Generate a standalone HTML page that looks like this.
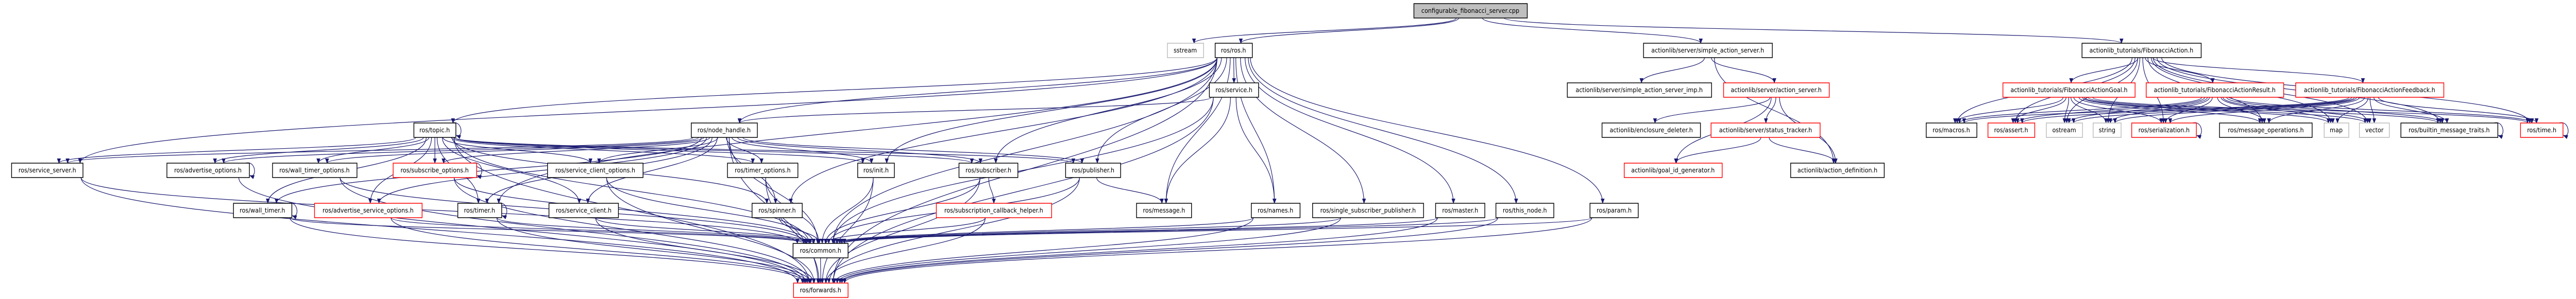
<!DOCTYPE html>
<html><head><meta charset="utf-8"><style>
html,body{margin:0;padding:0;background:#fff;width:100%;height:100%;overflow:hidden;}
svg{display:block;position:absolute;left:0;top:0;width:100%;height:100%;}
text{font-family:"DejaVu Sans","Liberation Sans",sans-serif;font-size:12px;fill:#000;text-anchor:middle;}
.b{fill:#fff;stroke:#000;stroke-width:1.5}
.r{fill:#fff;stroke:#f00;stroke-width:1.5}
.g{fill:#fff;stroke:#bbb;stroke-width:1.5}
.t{fill:#bfbfbf;stroke:#000;stroke-width:1.5}
</style></head><body>
<svg viewBox="0 0 5340 581" preserveAspectRatio="none" xmlns="http://www.w3.org/2000/svg">
<defs><marker id="a" markerWidth="10" markerHeight="8" refX="9" refY="4" orient="auto" markerUnits="userSpaceOnUse"><path d="M0,0 L10,4 L0,8 z" fill="#191970"/></marker></defs>
<rect width="5340" height="581" fill="#fff"/>
<g id="e" fill="none" stroke="#191970" stroke-width="1.2"></g>
<g id="nodes">
<rect class="t" x="2931" y="7" width="235" height="28"/><text x="3048" y="25">configurable_fibonacci_server.cpp</text>
<rect class="g" x="2420" y="84" width="75" height="28"/><text x="2457" y="102">sstream</text>
<rect class="b" x="2519" y="84" width="77" height="28"/><text x="2557" y="102">ros/ros.h</text>
<rect class="b" x="3407" y="84" width="267" height="28"/><text x="3540" y="102">actionlib/server/simple_action_server.h</text>
<rect class="b" x="4316" y="84" width="247" height="28"/><text x="4439" y="102">actionlib_tutorials/FibonacciAction.h</text>
<rect class="b" x="2507" y="161" width="102" height="28"/><text x="2558" y="179">ros/service.h</text>
<rect class="b" x="3249" y="161" width="299" height="28"/><text x="3398" y="179">actionlib/server/simple_action_server_imp.h</text>
<rect class="r" x="3573" y="161" width="219" height="28"/><text x="3682" y="179">actionlib/server/action_server.h</text>
<rect class="r" x="4152" y="161" width="274" height="28"/><text x="4289" y="179">actionlib_tutorials/FibonacciActionGoal.h</text>
<rect class="r" x="4449" y="161" width="285" height="28"/><text x="4591" y="179">actionlib_tutorials/FibonacciActionResult.h</text>
<rect class="r" x="4759" y="161" width="307" height="28"/><text x="4912" y="179">actionlib_tutorials/FibonacciActionFeedback.h</text>
<rect class="b" x="858" y="239" width="87" height="28"/><text x="901" y="257">ros/topic.h</text>
<rect class="b" x="1433" y="239" width="137" height="28"/><text x="1501" y="257">ros/node_handle.h</text>
<rect class="b" x="3321" y="239" width="204" height="28"/><text x="3423" y="257">actionlib/enclosure_deleter.h</text>
<rect class="r" x="3547" y="239" width="226" height="28"/><text x="3660" y="257">actionlib/server/status_tracker.h</text>
<rect class="b" x="3993" y="239" width="105" height="28"/><text x="4045" y="257">ros/macros.h</text>
<rect class="r" x="4121" y="239" width="97" height="28"/><text x="4169" y="257">ros/assert.h</text>
<rect class="g" x="4242" y="239" width="75" height="28"/><text x="4279" y="257">ostream</text>
<rect class="g" x="4339" y="239" width="58" height="28"/><text x="4368" y="257">string</text>
<rect class="r" x="4419" y="239" width="134" height="28"/><text x="4486" y="257">ros/serialization.h</text>
<rect class="b" x="4601" y="239" width="192" height="28"/><text x="4697" y="257">ros/message_operations.h</text>
<rect class="g" x="4818" y="239" width="51" height="28"/><text x="4843" y="257">map</text>
<rect class="g" x="4891" y="239" width="62" height="28"/><text x="4922" y="257">vector</text>
<rect class="b" x="4977" y="239" width="201" height="28"/><text x="5077" y="257">ros/builtin_message_traits.h</text>
<rect class="r" x="5225" y="239" width="88" height="28"/><text x="5269" y="257">ros/time.h</text>
<rect class="b" x="24" y="317" width="148" height="28"/><text x="98" y="335">ros/service_server.h</text>
<rect class="b" x="346" y="317" width="171" height="28"/><text x="431" y="335">ros/advertise_options.h</text>
<rect class="b" x="565" y="317" width="175" height="28"/><text x="652" y="335">ros/wall_timer_options.h</text>
<rect class="r" x="815" y="317" width="173" height="28"/><text x="901" y="335">ros/subscribe_options.h</text>
<rect class="b" x="1135" y="317" width="198" height="28"/><text x="1234" y="335">ros/service_client_options.h</text>
<rect class="b" x="1508" y="317" width="146" height="28"/><text x="1581" y="335">ros/timer_options.h</text>
<rect class="b" x="1778" y="317" width="76" height="28"/><text x="1816" y="335">ros/init.h</text>
<rect class="b" x="1988" y="317" width="122" height="28"/><text x="2049" y="335">ros/subscriber.h</text>
<rect class="b" x="2209" y="317" width="114" height="28"/><text x="2266" y="335">ros/publisher.h</text>
<rect class="r" x="3367" y="317" width="203" height="28"/><text x="3468" y="335">actionlib/goal_id_generator.h</text>
<rect class="b" x="3712" y="317" width="194" height="28"/><text x="3809" y="335">actionlib/action_definition.h</text>
<rect class="b" x="484" y="395" width="121" height="28"/><text x="544" y="413">ros/wall_timer.h</text>
<rect class="r" x="652" y="395" width="223" height="28"/><text x="763" y="413">ros/advertise_service_options.h</text>
<rect class="b" x="949" y="395" width="91" height="28"/><text x="994" y="413">ros/timer.h</text>
<rect class="b" x="1138" y="395" width="144" height="28"/><text x="1210" y="413">ros/service_client.h</text>
<rect class="b" x="1559" y="395" width="104" height="28"/><text x="1611" y="413">ros/spinner.h</text>
<rect class="r" x="1941" y="395" width="239" height="28"/><text x="2060" y="413">ros/subscription_callback_helper.h</text>
<rect class="b" x="2356" y="395" width="114" height="28"/><text x="2413" y="413">ros/message.h</text>
<rect class="b" x="2594" y="395" width="101" height="28"/><text x="2644" y="413">ros/names.h</text>
<rect class="b" x="2721" y="395" width="230" height="28"/><text x="2836" y="413">ros/single_subscriber_publisher.h</text>
<rect class="b" x="2976" y="395" width="102" height="28"/><text x="3027" y="413">ros/master.h</text>
<rect class="b" x="3101" y="395" width="120" height="28"/><text x="3161" y="413">ros/this_node.h</text>
<rect class="b" x="3296" y="395" width="100" height="28"/><text x="3346" y="413">ros/param.h</text>
<rect class="b" x="1644" y="473" width="114" height="28"/><text x="1701" y="491">ros/common.h</text>
<rect class="r" x="1645" y="550" width="113" height="28"/><text x="1701" y="568">ros/forwards.h</text>
</g>
</svg>
<script>
var R=[7,84,161,239,317,395,473,550];
var N={top:[2931,3166,0],sstream:[2420,2495,1],ros:[2519,2596,1],sas:[3407,3674,1],FA:[4316,4563,1],
service:[2507,2609,2],sasimp:[3249,3548,2],as:[3573,3792,2],Goal:[4152,4426,2],Res:[4449,4734,2],Fb:[4759,5066,2],
topic:[858,945,3],nh:[1433,1570,3],cd:[3321,3525,3],st:[3547,3773,3],macros:[3993,4098,3],assert:[4121,4218,3],ostream:[4242,4317,3],string:[4339,4397,3],ser:[4419,4553,3],mo:[4601,4793,3],map:[4818,4869,3],vector:[4891,4953,3],bmt:[4977,5178,3],time:[5225,5313,3],
ss:[24,172,4],ao:[346,517,4],wto:[565,740,4],so:[815,988,4],sco:[1135,1333,4],to:[1508,1654,4],init:[1778,1854,4],sub:[1988,2110,4],pub:[2209,2323,4],gid:[3367,3570,4],ad:[3712,3906,4],
wt:[484,605,5],aso:[652,875,5],timer:[949,1040,5],sc:[1138,1282,5],spin:[1559,1663,5],sch:[1941,2180,5],msg:[2356,2470,5],names:[2594,2695,5],ssp:[2721,2951,5],master:[2976,3078,5],thisn:[3101,3221,5],param:[3296,3396,5],
common:[1644,1758,6],fwd:[1645,1758,7]};
var E="top sstream,top ros,top sas,top FA,ros topic,ros nh,ros service,ros init,ros sub,ros pub,ros names,ros ssp,ros master,ros thisn,ros param,ros common,ros fwd,ros ss,ros timer,ros spin,ros msg,service nh,service msg,service names,service common,service fwd,"+
"topic ss,topic ao,topic wto,topic so,topic sco,topic to,topic wt,topic aso,topic timer,topic sc,topic common,topic fwd,topic sub,topic pub,topic init,topic spin,"+
"nh ss,nh ao,nh wto,nh so,nh sco,nh to,nh wt,nh aso,nh timer,nh sc,nh spin,nh init,nh sub,nh pub,nh common,nh fwd,"+
"ss common,ss fwd,ao fwd,wto common,wto fwd,so common,so fwd,sco common,sco fwd,to common,to fwd,init common,init fwd,sub sch,sub common,sub fwd,pub msg,pub common,pub fwd,"+
"wt common,wt fwd,aso common,aso fwd,timer common,timer fwd,sc common,sc fwd,spin common,sch common,sch fwd,names common,names fwd,ssp common,ssp fwd,master common,master fwd,thisn common,thisn fwd,param common,param fwd,common fwd,"+
"sas sasimp,sas as,sas ad,as cd,as st,as gid,as ad,st gid,st ad,"+
"FA Goal,FA Res,FA Fb,FA macros,FA assert,FA ostream,FA string,FA ser,FA mo,FA map,FA vector,FA bmt,FA time";
E=E.split(",");
["Goal","Res","Fb"].forEach(function(s){["macros","assert","ostream","string","ser","mo","map","vector","bmt","time"].forEach(function(t){E.push(s+" "+t);});});
var h="";
E.forEach(function(p){p=p.split(" ");var a=N[p[0]],b=N[p[1]];if(!a||!b)return;
var sx=(a[0]+a[1])/2,sy=R[a[2]]+28,tx=(b[0]+b[1])/2,ty=R[b[2]];
var dx=tx-sx;sx+=Math.max(-(a[1]-a[0])/2+4,Math.min((a[1]-a[0])/2-4,dx*0.05));
tx+=Math.max(-(b[1]-b[0])/2+6,Math.min((b[1]-b[0])/2-6,-dx*0.03));
var m=(sy+ty)/2;
h+='<path d="M'+sx.toFixed(1)+','+sy+' C'+sx.toFixed(1)+','+m+' '+tx.toFixed(1)+','+m+' '+tx.toFixed(1)+','+ty+'" marker-end="url(#a)"/>';});
["topic","ao","so","wt","timer","ser","bmt","time"].forEach(function(k){var b=N[k],x=b[1],y=R[b[2]];
h+='<path d="M'+(x-8)+','+y+' C'+(x+14)+','+(y-6)+' '+(x+16)+','+(y+30)+' '+(x+1)+','+(y+24)+'" marker-end="url(#a)"/>';});
document.getElementById("e").innerHTML=h;
</script>
</body></html>
